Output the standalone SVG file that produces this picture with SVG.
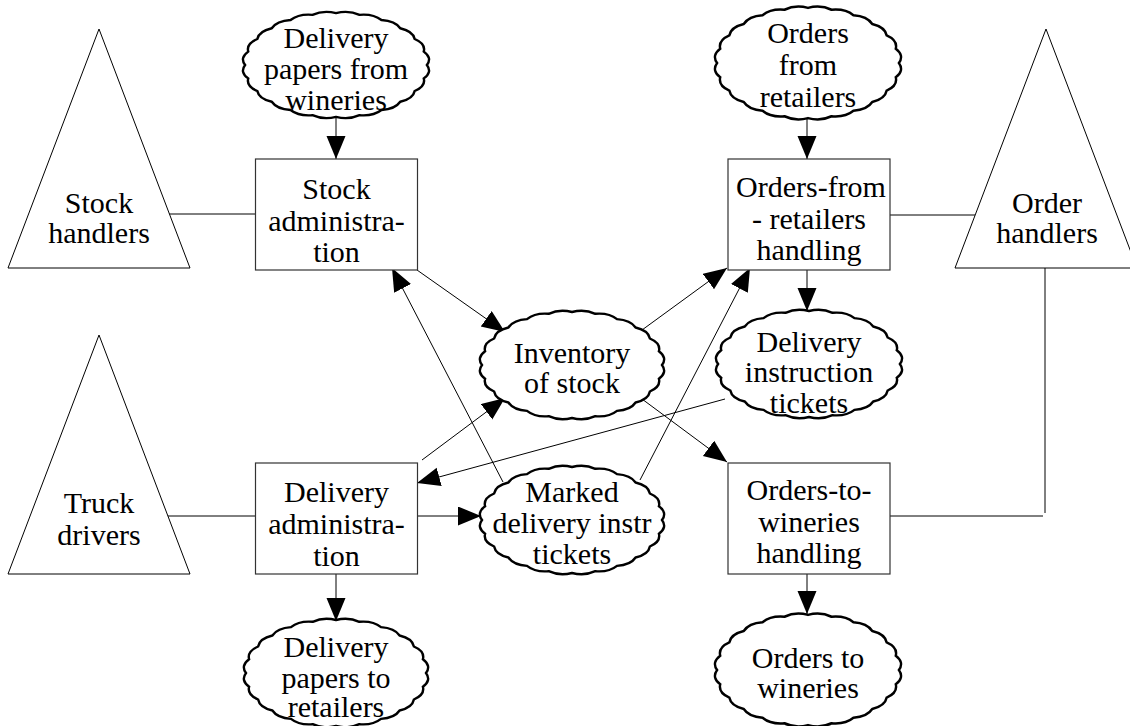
<svg xmlns="http://www.w3.org/2000/svg" width="1130" height="726" viewBox="0 0 1130 726">
<defs>
  <marker id="head" markerUnits="userSpaceOnUse" markerWidth="24" markerHeight="20" refX="23" refY="9.5" orient="auto">
    <path d="M0,0 L23,9.5 L0,19 Z" fill="#000"/>
  </marker>
  <path id="wav" fill="#fff" stroke="#000" stroke-width="2.4" d="M90,0 Q95.5,7.4 86.9,13.7 Q89,21.7 77.9,26.5 Q76.4,34.5 63.6,37.5 Q58.6,45 45,45.9 Q36.9,52.4 23.3,51.2 Q12.6,56.2 0,53 Q-12.6,56.2 -23.3,51.2 Q-36.9,52.4 -45,45.9 Q-58.6,45 -63.6,37.5 Q-76.4,34.5 -77.9,26.5 Q-89,21.7 -86.9,13.7 Q-95.5,7.4 -90,0 Q-95.5,-7.4 -86.9,-13.7 Q-89,-21.7 -77.9,-26.5 Q-76.4,-34.5 -63.6,-37.5 Q-58.6,-45 -45,-45.9 Q-36.9,-52.4 -23.3,-51.2 Q-12.6,-56.2 0,-53 Q12.6,-56.2 23.3,-51.2 Q36.9,-52.4 45,-45.9 Q58.6,-45 63.6,-37.5 Q76.4,-34.5 77.9,-26.5 Q89,-21.7 86.9,-13.7 Q95.5,-7.4 90,0 Z"/>
  <rect id="box" width="162" height="111" fill="#fff" stroke="#333" stroke-width="1.2"/>
  <polygon id="tri" points="0,0 91,239 -91,239" fill="#fff" stroke="#000" stroke-width="1"/>
</defs>
<rect width="1130" height="726" fill="#fff"/>

<g id="connectors" fill="none" stroke="#000" stroke-width="1">
  <line x1="165" y1="214" x2="256" y2="214"/>
  <line x1="165" y1="516" x2="255" y2="516"/>
  <line x1="890" y1="215" x2="975" y2="215"/>
  <line x1="1045" y1="268" x2="1045" y2="513"/>
  <line x1="890" y1="516" x2="1043" y2="516"/>
  <line x1="336" y1="117" x2="336" y2="159" marker-end="url(#head)"/>
  <line x1="807" y1="118" x2="807" y2="159" marker-end="url(#head)"/>
  <line x1="807" y1="270" x2="807" y2="311" marker-end="url(#head)"/>
  <line x1="336" y1="574" x2="336" y2="621" marker-end="url(#head)"/>
  <line x1="807" y1="574" x2="807" y2="614" marker-end="url(#head)"/>
  <line x1="418" y1="516" x2="481" y2="516" marker-end="url(#head)"/>
  <line x1="417" y1="270" x2="505" y2="332" marker-end="url(#head)"/>
  <line x1="422" y1="460" x2="505" y2="398" marker-end="url(#head)"/>
  <line x1="503" y1="482" x2="392" y2="268" marker-end="url(#head)"/>
  <line x1="642" y1="330" x2="727" y2="268" marker-end="url(#head)"/>
  <line x1="640" y1="480" x2="750" y2="268" marker-end="url(#head)"/>
  <line x1="642" y1="399" x2="727" y2="462" marker-end="url(#head)"/>
  <line x1="725" y1="399" x2="417" y2="483" marker-end="url(#head)"/>
</g>

<g id="stock-handlers">
  <use href="#tri" x="99" y="29"/>
  <text x="99" y="213" style="font-family: 'Liberation Serif', 'Times New Roman', serif; font-size: 30px; text-anchor: middle">Stock</text>
  <text x="99" y="243" style="font-family: 'Liberation Serif', 'Times New Roman', serif; font-size: 30px; text-anchor: middle">handlers</text>
</g>
<g id="truck-drivers">
  <use href="#tri" x="99" y="335"/>
  <text x="99" y="513" style="font-family: 'Liberation Serif', 'Times New Roman', serif; font-size: 30px; text-anchor: middle">Truck</text>
  <text x="99" y="545" style="font-family: 'Liberation Serif', 'Times New Roman', serif; font-size: 30px; text-anchor: middle">drivers</text>
</g>
<g id="order-handlers">
  <use href="#tri" x="1046" y="29"/>
  <text x="1047" y="213" style="font-family: 'Liberation Serif', 'Times New Roman', serif; font-size: 30px; text-anchor: middle">Order</text>
  <text x="1047" y="243" style="font-family: 'Liberation Serif', 'Times New Roman', serif; font-size: 30px; text-anchor: middle">handlers</text>
</g>

<g id="stock-administration">
  <use href="#box" x="255.5" y="159"/>
  <text x="336.5" y="199" style="font-family: 'Liberation Serif', 'Times New Roman', serif; font-size: 30px; text-anchor: middle">Stock</text>
  <text x="336.5" y="230.5" style="font-family: 'Liberation Serif', 'Times New Roman', serif; font-size: 30px; text-anchor: middle">administra-</text>
  <text x="336.5" y="262" style="font-family: 'Liberation Serif', 'Times New Roman', serif; font-size: 30px; text-anchor: middle">tion</text>
</g>
<g id="orders-from-retailers-handling">
  <use href="#box" x="728" y="159"/>
  <text x="811" y="197" style="font-family: 'Liberation Serif', 'Times New Roman', serif; font-size: 30px; text-anchor: middle">Orders-from</text>
  <text x="809" y="229" style="font-family: 'Liberation Serif', 'Times New Roman', serif; font-size: 30px; text-anchor: middle">- retailers</text>
  <text x="809" y="260" style="font-family: 'Liberation Serif', 'Times New Roman', serif; font-size: 30px; text-anchor: middle">handling</text>
</g>
<g id="delivery-administration">
  <use href="#box" x="255.5" y="463"/>
  <text x="336.5" y="502" style="font-family: 'Liberation Serif', 'Times New Roman', serif; font-size: 30px; text-anchor: middle">Delivery</text>
  <text x="336.5" y="534" style="font-family: 'Liberation Serif', 'Times New Roman', serif; font-size: 30px; text-anchor: middle">administra-</text>
  <text x="336.5" y="566" style="font-family: 'Liberation Serif', 'Times New Roman', serif; font-size: 30px; text-anchor: middle">tion</text>
</g>
<g id="orders-to-wineries-handling">
  <use href="#box" x="728" y="463"/>
  <text x="809" y="500" style="font-family: 'Liberation Serif', 'Times New Roman', serif; font-size: 30px; text-anchor: middle">Orders-to-</text>
  <text x="809" y="532" style="font-family: 'Liberation Serif', 'Times New Roman', serif; font-size: 30px; text-anchor: middle">wineries</text>
  <text x="809" y="563" style="font-family: 'Liberation Serif', 'Times New Roman', serif; font-size: 30px; text-anchor: middle">handling</text>
</g>

<g id="delivery-papers-from-wineries">
  <use href="#wav" transform="translate(336,65) scale(1.01,0.98)"/>
  <text x="336" y="48" style="font-family: 'Liberation Serif', 'Times New Roman', serif; font-size: 30px; text-anchor: middle">Delivery</text>
  <text x="336" y="79" style="font-family: 'Liberation Serif', 'Times New Roman', serif; font-size: 30px; text-anchor: middle">papers from</text>
  <text x="336" y="110" style="font-family: 'Liberation Serif', 'Times New Roman', serif; font-size: 30px; text-anchor: middle">wineries</text>
</g>
<g id="orders-from-retailers">
  <use href="#wav" transform="translate(808,63) scale(1.01,1.04)"/>
  <text x="808" y="43" style="font-family: 'Liberation Serif', 'Times New Roman', serif; font-size: 30px; text-anchor: middle">Orders</text>
  <text x="808" y="75" style="font-family: 'Liberation Serif', 'Times New Roman', serif; font-size: 30px; text-anchor: middle">from</text>
  <text x="808" y="107" style="font-family: 'Liberation Serif', 'Times New Roman', serif; font-size: 30px; text-anchor: middle">retailers</text>
</g>
<g id="inventory-of-stock">
  <use href="#wav" transform="translate(572,365)"/>
  <text x="572" y="363" style="font-family: 'Liberation Serif', 'Times New Roman', serif; font-size: 30px; text-anchor: middle">Inventory</text>
  <text x="572" y="392.5" style="font-family: 'Liberation Serif', 'Times New Roman', serif; font-size: 30px; text-anchor: middle">of stock</text>
</g>
<g id="delivery-instruction-tickets">
  <use href="#wav" transform="translate(809,364) scale(1.01,1)"/>
  <text x="809" y="352" style="font-family: 'Liberation Serif', 'Times New Roman', serif; font-size: 30px; text-anchor: middle">Delivery</text>
  <text x="809" y="382" style="font-family: 'Liberation Serif', 'Times New Roman', serif; font-size: 30px; text-anchor: middle">instruction</text>
  <text x="809" y="413" style="font-family: 'Liberation Serif', 'Times New Roman', serif; font-size: 30px; text-anchor: middle">tickets</text>
</g>
<g id="marked-delivery-instr-tickets">
  <use href="#wav" transform="translate(572,520)"/>
  <text x="572" y="502" style="font-family: 'Liberation Serif', 'Times New Roman', serif; font-size: 30px; text-anchor: middle">Marked</text>
  <text x="572" y="533" style="font-family: 'Liberation Serif', 'Times New Roman', serif; font-size: 30px; text-anchor: middle">delivery instr</text>
  <text x="572" y="564" style="font-family: 'Liberation Serif', 'Times New Roman', serif; font-size: 30px; text-anchor: middle">tickets</text>
</g>
<g id="delivery-papers-to-retailers">
  <use href="#wav" transform="translate(336,673)"/>
  <text x="336" y="657" style="font-family: 'Liberation Serif', 'Times New Roman', serif; font-size: 30px; text-anchor: middle">Delivery</text>
  <text x="336" y="688" style="font-family: 'Liberation Serif', 'Times New Roman', serif; font-size: 30px; text-anchor: middle">papers to</text>
  <text x="336" y="717" style="font-family: 'Liberation Serif', 'Times New Roman', serif; font-size: 30px; text-anchor: middle">retailers</text>
</g>
<g id="orders-to-wineries">
  <use href="#wav" transform="translate(808,670) scale(1.01,1.04)"/>
  <text x="808" y="668" style="font-family: 'Liberation Serif', 'Times New Roman', serif; font-size: 30px; text-anchor: middle">Orders to</text>
  <text x="808" y="698" style="font-family: 'Liberation Serif', 'Times New Roman', serif; font-size: 30px; text-anchor: middle">wineries</text>
</g>
</svg>
